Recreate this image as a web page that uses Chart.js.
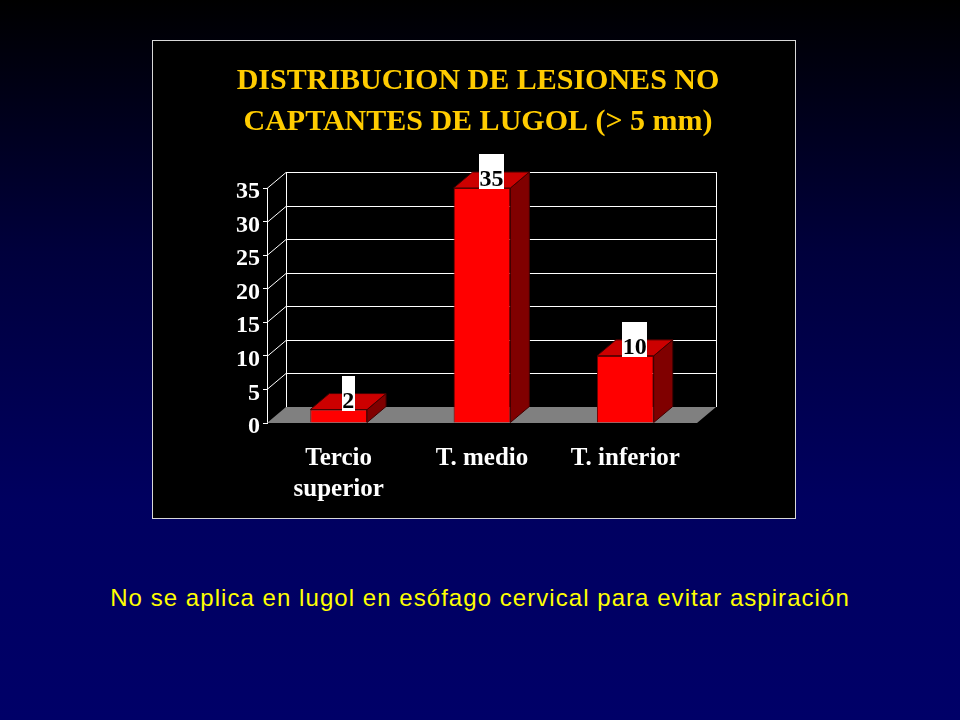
<!DOCTYPE html>
<html><head><meta charset="utf-8">
<script src="https://cdn.jsdelivr.net/npm/chart.js@4"></script>
<style>
html,body{margin:0;padding:0;width:960px;height:720px;overflow:hidden;background:linear-gradient(to bottom,#000000 0%,#00003c 35%,#000060 70%,#000068 100%);}
#panel{position:absolute;left:152px;top:40px;width:642px;height:477px;border:1px solid #d8d8d8;background:#000;}
#caption{position:absolute;left:0;width:960px;top:585px;text-align:center;font:24px "Liberation Sans",Arial,sans-serif;letter-spacing:1.05px;color:#ffff00;line-height:26px;}
</style></head>
<body>
<div id="panel"><canvas id="c" width="642" height="477"></canvas></div>
<div id="caption">No se aplica en lugol en esófago cervical para evitar aspiración</div>
<script>
const categories = [['Tercio', 'superior'], 'T. medio', 'T. inferior'];
const values = [2, 35, 10];
const yTicks = [0, 5, 10, 15, 20, 25, 30, 35];
const titleLines = ['DISTRIBUCION DE LESIONES NO', 'CAPTANTES DE LUGOL (> 5 mm)'];

const DX = 19, DY = -16;
const serif = '"Liberation Serif","Times New Roman",serif';

const plugin3d = {
  id: 'threeD',
  beforeDatasetsDraw(chart) {
    const {ctx, chartArea: a, scales: {y}} = chart;
    ctx.save();
    const L = a.left, R = a.right;
    const B = y.getPixelForValue(0), T = y.getPixelForValue(35);
    ctx.fillStyle = '#808080';
    ctx.beginPath();
    ctx.moveTo(L, B); ctx.lineTo(R, B); ctx.lineTo(R + DX, B + DY); ctx.lineTo(L + DX, B + DY);
    ctx.closePath(); ctx.fill();
    ctx.strokeStyle = '#ffffff'; ctx.lineWidth = 1;
    ctx.beginPath();
    yTicks.forEach(v => {
      if (v === 0) return;
      const py = Math.round(y.getPixelForValue(v)) + 0.5;
      ctx.moveTo(L, py); ctx.lineTo(L + DX, py + DY);
      ctx.moveTo(L + DX, py + DY); ctx.lineTo(R + DX, py + DY);
    });
    ctx.moveTo(L + DX + 0.5, B + DY); ctx.lineTo(L + DX + 0.5, T + DY);
    ctx.moveTo(R + DX + 0.5, B + DY); ctx.lineTo(R + DX + 0.5, T + DY);
    ctx.stroke();
    ctx.restore();
  },
  afterDatasetsDraw(chart) {
    const {ctx} = chart;
    const meta = chart.getDatasetMeta(0);
    ctx.save();
    meta.data.forEach(bar => {
      const x1 = bar.x - bar.width / 2, x2 = bar.x + bar.width / 2, top = bar.y, base = bar.base;
      ctx.lineWidth = 1; ctx.strokeStyle = '#400000';
      ctx.fillStyle = '#800000';
      ctx.beginPath();
      ctx.moveTo(x2, top); ctx.lineTo(x2 + DX, top + DY); ctx.lineTo(x2 + DX, base + DY); ctx.lineTo(x2, base);
      ctx.closePath(); ctx.fill(); ctx.stroke();
      ctx.fillStyle = '#cc0000';
      ctx.beginPath();
      ctx.moveTo(x1, top); ctx.lineTo(x1 + DX, top + DY); ctx.lineTo(x2 + DX, top + DY); ctx.lineTo(x2, top);
      ctx.closePath(); ctx.fill(); ctx.stroke();
    });
    ctx.font = 'bold 24px ' + serif;
    meta.data.forEach((bar, i) => {
      const txt = String(values[i]);
      const w = Math.round(ctx.measureText(txt).width + 1);
      const cx = bar.x + DX / 2;
      const bottom = Math.round(bar.y) + 1;
      ctx.fillStyle = '#ffffff';
      ctx.fillRect(Math.round(cx - w / 2), bottom - 35, w, 35);
      ctx.fillStyle = '#000000'; ctx.textAlign = 'center'; ctx.textBaseline = 'alphabetic';
      ctx.fillText(txt, cx, bottom - 3);
    });
    ctx.restore();
  },
  afterDraw(chart) {
    const {ctx} = chart;
    ctx.save();
    ctx.font = 'bold 30px ' + serif;
    ctx.fillStyle = '#ffcc00';
    ctx.textAlign = 'center'; ctx.textBaseline = 'alphabetic';
    ctx.fillText(titleLines[0], 325, 47.5);
    ctx.fillText(titleLines[1], 325, 89);
    ctx.restore();
  }
};

new Chart(document.getElementById('c'), {
  type: 'bar',
  data: {
    labels: categories,
    datasets: [{
      data: values,
      backgroundColor: '#ff0000',
      borderColor: '#700000',
      borderWidth: 1,
      barPercentage: 0.396,
      categoryPercentage: 1
    }]
  },
  options: {
    responsive: false,
    animation: false,
    devicePixelRatio: 1,
    layout: {padding: {left: 0, right: 98, top: 147, bottom: 0}},
    plugins: {legend: {display: false}, tooltip: {enabled: false}, title: {display: false}},
    scales: {
      x: {
        grid: {display: false},
        border: {display: false},
        ticks: {color: '#ffffff', font: {family: serif, size: 25, weight: 'bold', lineHeight: 1.24}, padding: 12, maxRotation: 0, autoSkip: false},
        afterFit(s) { s.height = 95; }
      },
      y: {
        min: 0, max: 35,
        afterBuildTicks(s) { s.ticks = yTicks.map(v => ({value: v})); },
        grid: {drawOnChartArea: false, color: '#ffffff', tickLength: 4},
        border: {display: true, color: '#ffffff'},
        ticks: {color: '#ffffff', font: {family: serif, size: 24, weight: 'bold'}, padding: 3, labelOffset: 4},
        afterFit(s) { s.width = 114; }
      }
    }
  },
  plugins: [plugin3d]
});
</script>
</body></html>
